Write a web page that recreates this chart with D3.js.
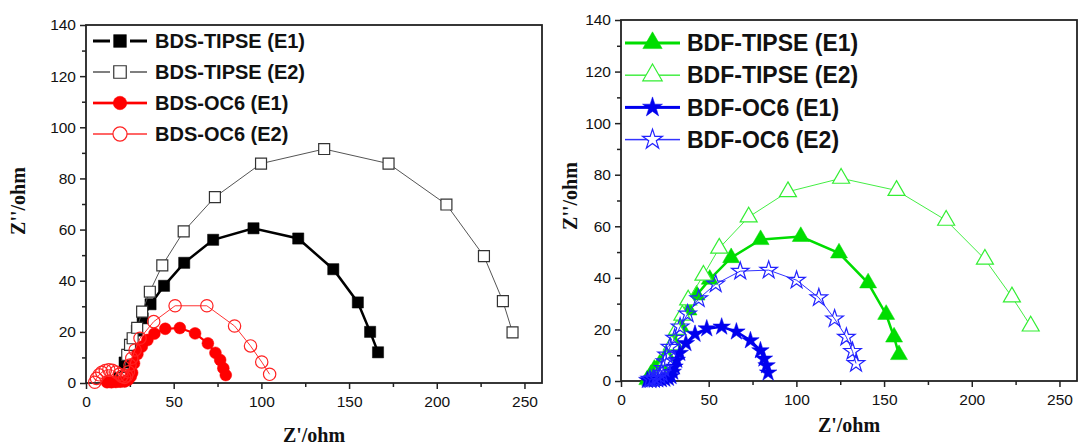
<!DOCTYPE html>
<html>
<head>
<meta charset="utf-8">
<script src="https://cdn.jsdelivr.net/npm/d3@7"></script>
<style>
  body { margin: 0; background: #fff; }
  .tick text { font-family: 'Liberation Sans', Arial, sans-serif; font-size: 15.5px; fill: #111; }
  .tick line { stroke: #222; stroke-width: 1.5; }
  .legend text { font-family: 'Liberation Sans', Arial, sans-serif; font-weight: bold; fill: #111; }
  .title { font-family: 'Liberation Serif', 'Times New Roman', serif; font-weight: bold; font-size: 20px; fill: #111; }
</style>
</head>
<body>
<div id="chart"></div>
<script>
// ticks
const xTicks = [0, 50, 100, 150, 200, 250];
const xMinor = [25, 75, 125, 175, 225];
const yTicks = [0, 20, 40, 60, 80, 100, 120, 140];
const yMinor = [10, 30, 50, 70, 90, 110, 130];

// left panel: [Z', Z'']
const bdsTipseE1 = [[19, 2], [22, 8], [25.5, 14.5], [29, 20.5], [32.3, 25.3], [36.8, 30.8], [44.5, 38], [56, 47],
  [72.5, 56], [95.5, 60.5], [121, 56.5], [141, 44.5], [155, 31.5], [162, 20], [166.5, 12]];
const bdsTipseE2 = [[21, 2], [23.5, 11], [25.1, 14.9], [26.6, 17.5], [29.2, 21.6], [32, 27.9], [36.4, 35.7],
  [43.5, 46], [55.7, 59.3], [73.5, 72.7], [99.8, 85.8], [135.8, 91.5], [172.5, 85.8], [205.5, 69.8],
  [226.9, 49.6], [237.7, 32], [243.2, 19.8]];
const bdsOc6E1 = [[12, 0.3], [14.5, 0.3], [17, 0.4], [19.5, 0.5], [22, 0.6], [24, 1.2], [25.5, 2.5], [26.3, 4],
  [27.4, 7.7], [29.3, 11.3], [31.8, 14.2], [35, 16.8], [39, 19.3], [45.2, 21.2], [53.5, 21.5], [62.2, 19.4],
  [69.5, 15.5], [73.8, 11.8], [76.5, 9], [78.3, 5.8], [79.7, 3.1]];
const bdsOc6E2 = [[5, 0.3], [6, 1.8], [7.5, 3.2], [9, 4.2], [11, 4.9], [13, 5.2], [15, 5], [17, 4.3], [19, 3.4],
  [20.5, 2.6], [22, 2.2], [23.2, 2.8], [24.2, 4.4], [25.1, 7], [26.1, 9.7], [28, 12.9], [30.8, 17.5],
  [38.6, 24], [50.8, 30.2], [68.9, 30.2], [84.7, 22.3], [93.8, 14.5], [100.2, 8.2], [104.7, 3.4]];

// right panel
const bdfTipseE1 = [[15, 0.5], [17, 2.5], [19, 4.5], [22, 6.5], [26, 10], [30, 15], [34, 21], [38.5, 27.5],
  [43.1, 33.3], [50.6, 39.4], [62.8, 47.8], [79.6, 54.8], [102.5, 56], [124.3, 49.6], [140.9, 38],
  [151.2, 25.8], [155.7, 17], [158.5, 10.2]];
const bdfTipseE2 = [[17, 0.3], [20, 1.2], [23, 3], [26, 8], [29, 14], [32, 20], [35, 25.5], [38.3, 31.4],
  [47, 41], [56, 51.5], [72.8, 63.6], [95.2, 73.4], [125.5, 78.6], [157.1, 73.9], [185.4, 62.3],
  [207.5, 47.2], [222.9, 32.6], [233.6, 21.3]];
const bdfOc6E1 = [[15, 0.3], [17, 0.35], [19, 0.4], [21, 0.5], [23, 0.6], [25, 0.8], [27, 1.1], [28.5, 1.8],
  [29.5, 3.5], [30.5, 5.5], [31.8, 8.1], [33.5, 10.8], [37, 14.6], [42.2, 18.2], [48.9, 20.3], [57.4, 21],
  [65.8, 19.1], [73.8, 15.7], [79.5, 11.8], [81.5, 8.6], [83, 6], [83.9, 3.2]];
const bdfOc6E2 = [[16.5, 0.7], [18.5, 0.9], [20.3, 1.2], [22, 2], [23.2, 3], [24.1, 4.9], [25.1, 7.5], [26, 10.1],
  [27.9, 13.1], [30.6, 16.6], [33.7, 21], [38, 26], [44.3, 31.9], [54, 37.6], [68, 42.6], [84.2, 43],
  [100.1, 39.1], [112.8, 32.3], [121.8, 24.1], [128.5, 17], [132, 11.5], [134, 6.8]];

const leftNames = ['BDS-TIPSE (E1)', 'BDS-TIPSE (E2)', 'BDS-OC6 (E1)', 'BDS-OC6 (E2)'];
const rightNames = ['BDF-TIPSE (E1)', 'BDF-TIPSE (E2)', 'BDF-OC6 (E1)', 'BDF-OC6 (E2)'];

const svg = d3.select('#chart').append('svg').attr('width', 1079).attr('height', 447);
svg.append('rect').attr('width', 1079).attr('height', 447).attr('fill', '#fff');

function panel(opts) {
  const x = d3.scaleLinear().domain([0, 260]).range(opts.xr);
  const y = d3.scaleLinear().domain([0, 140]).range(opts.yr);
  const g = svg.append('g');

  const xAxis = g.append('g').attr('transform', `translate(0,${opts.yr[0]})`)
    .call(d3.axisBottom(x).tickValues(xTicks).tickSize(6).tickPadding(7));
  const xAxisMinor = g.append('g').attr('transform', `translate(0,${opts.yr[0]})`)
    .call(d3.axisBottom(x).tickValues(xMinor).tickSize(4).tickFormat(''));
  const yAxis = g.append('g').attr('transform', `translate(${opts.xr[0]},0)`)
    .call(d3.axisLeft(y).tickValues(yTicks).tickSize(6).tickPadding(4));
  const yAxisMinor = g.append('g').attr('transform', `translate(${opts.xr[0]},0)`)
    .call(d3.axisLeft(y).tickValues(yMinor).tickSize(4).tickFormat(''));
  [xAxis, xAxisMinor, yAxis, yAxisMinor].forEach(a => a.select('.domain').remove());

  g.append('rect')
    .attr('x', opts.xr[0]).attr('y', opts.yr[1])
    .attr('width', opts.xr[1] - opts.xr[0]).attr('height', opts.yr[0] - opts.yr[1])
    .attr('fill', 'none').attr('stroke', '#222').attr('stroke-width', 1.8);

  const line = d3.line(d => x(d[0]), d => y(d[1]));

  opts.series.forEach(s => {
    g.append('path')
      .attr('d', line(s.data))
      .attr('fill', 'none')
      .attr('stroke', s.line)
      .attr('stroke-width', s.width);
    g.append('g').selectAll('path')
      .data(s.data)
      .join('path')
      .attr('transform', d => `translate(${x(d[0])},${y(d[1])})`)
      .attr('d', d3.symbol(s.symbol, s.size))
      .attr('fill', s.fill)
      .attr('stroke', s.color)
      .attr('stroke-width', s.filled ? 0.5 : 1.2);
  });

  // legend, line broken around the symbol like the original
  const lg = g.append('g').attr('class', 'legend');
  const mid = (opts.legend.x1 + opts.legend.x2) / 2;
  opts.series.forEach((s, i) => {
    const ly = opts.legend.y0 + i * opts.legend.dy;
    const row = lg.append('g').attr('transform', `translate(0,${ly})`);
    row.append('line')
      .attr('x1', opts.legend.x1).attr('x2', mid - s.gap)
      .attr('stroke', s.line).attr('stroke-width', s.width + 0.5);
    row.append('line')
      .attr('x1', mid + s.gap).attr('x2', opts.legend.x2)
      .attr('stroke', s.line).attr('stroke-width', s.width + 0.5);
    row.append('path')
      .attr('transform', `translate(${mid},0)`)
      .attr('d', d3.symbol(s.symbol, s.size * 1.3))
      .attr('fill', s.fill === 'none' ? '#fff' : s.fill)
      .attr('stroke', s.color).attr('stroke-width', s.filled ? 0.5 : 1.2);
    row.append('text')
      .attr('x', opts.legend.tx).attr('dy', '0.36em')
      .style('font-size', opts.legend.font + 'px')
      .text(s.name);
  });

  g.append('text').attr('class', 'title')
    .attr('x', (opts.xr[0] + opts.xr[1]) / 2).attr('y', opts.xTitleY)
    .attr('text-anchor', 'middle').text("Z'/ohm");
  g.append('text').attr('class', 'title')
    .attr('transform', `translate(${opts.yTitleX},${opts.yTitleY}) rotate(-90)`)
    .attr('text-anchor', 'middle').attr('dy', '0.35em').text("Z''/ohm");
}

panel({
  xr: [86, 542], yr: [383, 25],
  xTitleY: 442, yTitleX: 18, yTitleY: 201,
  legend: { x1: 93, x2: 147, tx: 155, y0: 41, dy: 31, font: 20 },
  series: [
    { name: leftNames[0], data: bdsTipseE1, symbol: d3.symbolSquare, size: 125, color: '#000', fill: '#000', line: '#000', width: 2.5, filled: true, gap: 10 },
    { name: leftNames[1], data: bdsTipseE2, symbol: d3.symbolSquare, size: 120, color: '#333', fill: '#fff', line: '#555', width: 1, filled: false, gap: 10 },
    { name: leftNames[2], data: bdsOc6E1, symbol: d3.symbolCircle, size: 110, color: '#f00', fill: '#f00', line: '#f00', width: 2.2, filled: true, gap: 0 },
    { name: leftNames[3], data: bdsOc6E2, symbol: d3.symbolCircle, size: 120, color: '#f22', fill: 'none', line: '#f33', width: 1, filled: false, gap: 0 }
  ]
});

panel({
  xr: [621, 1077], yr: [381, 20],
  xTitleY: 432, yTitleX: 570, yTitleY: 196,
  legend: { x1: 625, x2: 680, tx: 687, y0: 43, dy: 32.2, font: 23 },
  series: [
    { name: rightNames[0], data: bdfTipseE1, symbol: d3.symbolTriangle, size: 125, color: '#00dd00', fill: '#00dd00', line: '#00dd00', width: 2.5, filled: true, gap: 0 },
    { name: rightNames[1], data: bdfTipseE2, symbol: d3.symbolTriangle, size: 125, color: '#33ee33', fill: '#fff', line: '#44ee44', width: 1, filled: false, gap: 0 },
    { name: rightNames[2], data: bdfOc6E1, symbol: d3.symbolStar, size: 95, color: '#0000ee', fill: '#0000ee', line: '#0000ee', width: 2.5, filled: true, gap: 0 },
    { name: rightNames[3], data: bdfOc6E2, symbol: d3.symbolStar, size: 95, color: '#2222ff', fill: 'none', line: '#3333ff', width: 1, filled: false, gap: 0 }
  ]
});
</script>
</body>
</html>
